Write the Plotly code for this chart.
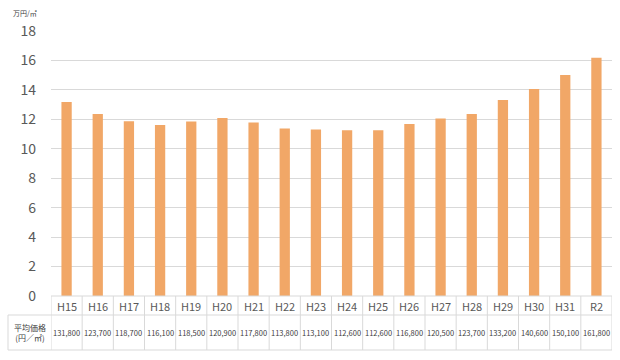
import plotly.graph_objects as go

years = ["H15", "H16", "H17", "H18", "H19", "H20", "H21", "H22", "H23",
         "H24", "H25", "H26", "H27", "H28", "H29", "H30", "H31", "R2"]
prices_yen = [131800, 123700, 118700, 116100, 118500, 120900, 117800, 113800, 113100,
              112600, 112600, 116800, 120500, 123700, 133200, 140600, 150100, 161800]
row_label = "平均価格<br>(円／㎡)"
unit_label = "万円/㎡"
y_ticks = [0, 2, 4, 6, 8, 10, 12, 14, 16, 18]

values_man = [p / 10000 for p in prices_yen]

W, H = 620, 360
L, R, T, B = 51, 8, 31, 64
ph = H - T - B
pw = W - L - R

def py(px):  # pixel y -> paper
    return (H - B - px) / ph

def pxp(px):  # pixel x -> paper
    return (px - L) / pw

FONT = "Noto Sans CJK JP"
GRID = "#d9d9d9"

fig = go.Figure()
fig.add_trace(go.Bar(
    x=list(range(len(years))), y=values_man,
    marker=dict(color="#F1A767", line=dict(width=0)),
    width=0.33, hoverinfo="skip"))

shapes = []
y_row = py(315)
y_bot = py(350)
x_left = pxp(8)
for i in range(len(years) + 1):
    shapes.append(dict(type="line", xref="x", yref="paper", x0=i - 0.5, x1=i - 0.5,
                       y0=0, y1=y_bot, line=dict(color=GRID, width=1)))
shapes.append(dict(type="line", xref="paper", yref="paper", x0=x_left, x1=1,
                   y0=y_row, y1=y_row, line=dict(color=GRID, width=1)))
shapes.append(dict(type="line", xref="paper", yref="paper", x0=x_left, x1=1,
                   y0=y_bot, y1=y_bot, line=dict(color=GRID, width=1)))
shapes.append(dict(type="line", xref="paper", yref="paper", x0=x_left, x1=x_left,
                   y0=y_row, y1=y_bot, line=dict(color=GRID, width=1)))
shapes.append(dict(type="line", xref="paper", yref="paper", x0=0, x1=1,
                   y0=0, y1=0, line=dict(color=GRID, width=1)))

annotations = []
common = dict(showarrow=False, xanchor="center", yanchor="middle")
for i, (yr, p) in enumerate(zip(years, prices_yen)):
    annotations.append(dict(x=i, y=py(306), xref="x", yref="paper", text=yr,
                            font=dict(size=11, color="#595959", family=FONT), **common))
    annotations.append(dict(x=i, y=py(332), xref="x", yref="paper", text=f"{p:,}",
                            font=dict(size=7.5, color="#404040", family=FONT), **common))
annotations.append(dict(x=pxp(29.5), y=py(332), xref="paper", yref="paper", text=row_label,
                        font=dict(size=8, color="#404040", family=FONT), **common))
annotations.append(dict(x=pxp(25), y=py(13), xref="paper", yref="paper", text=unit_label,
                        font=dict(size=7, color="#404040", family=FONT), **common))

fig.update_layout(
    width=W, height=H,
    margin=dict(l=L, r=R, t=T, b=B, autoexpand=False),
    paper_bgcolor="white", plot_bgcolor="white",
    showlegend=False, bargap=0.67,
    xaxis=dict(range=[-0.5, len(years) - 0.5], showticklabels=False, showgrid=False,
               zeroline=False, showline=False, ticks=""),
    yaxis=dict(range=[0, 18], tickvals=y_ticks, showgrid=True, gridcolor=GRID, gridwidth=1,
               zeroline=False, showline=False, ticks="", ticklabelstandoff=14,
               tickfont=dict(size=14, color="#595959", family=FONT)),
    shapes=shapes, annotations=annotations,
    font=dict(family=FONT),
)

fig.write_html("out.html", config={"displayModeBar": False},
               post_script="document.body.style.margin='0';")
